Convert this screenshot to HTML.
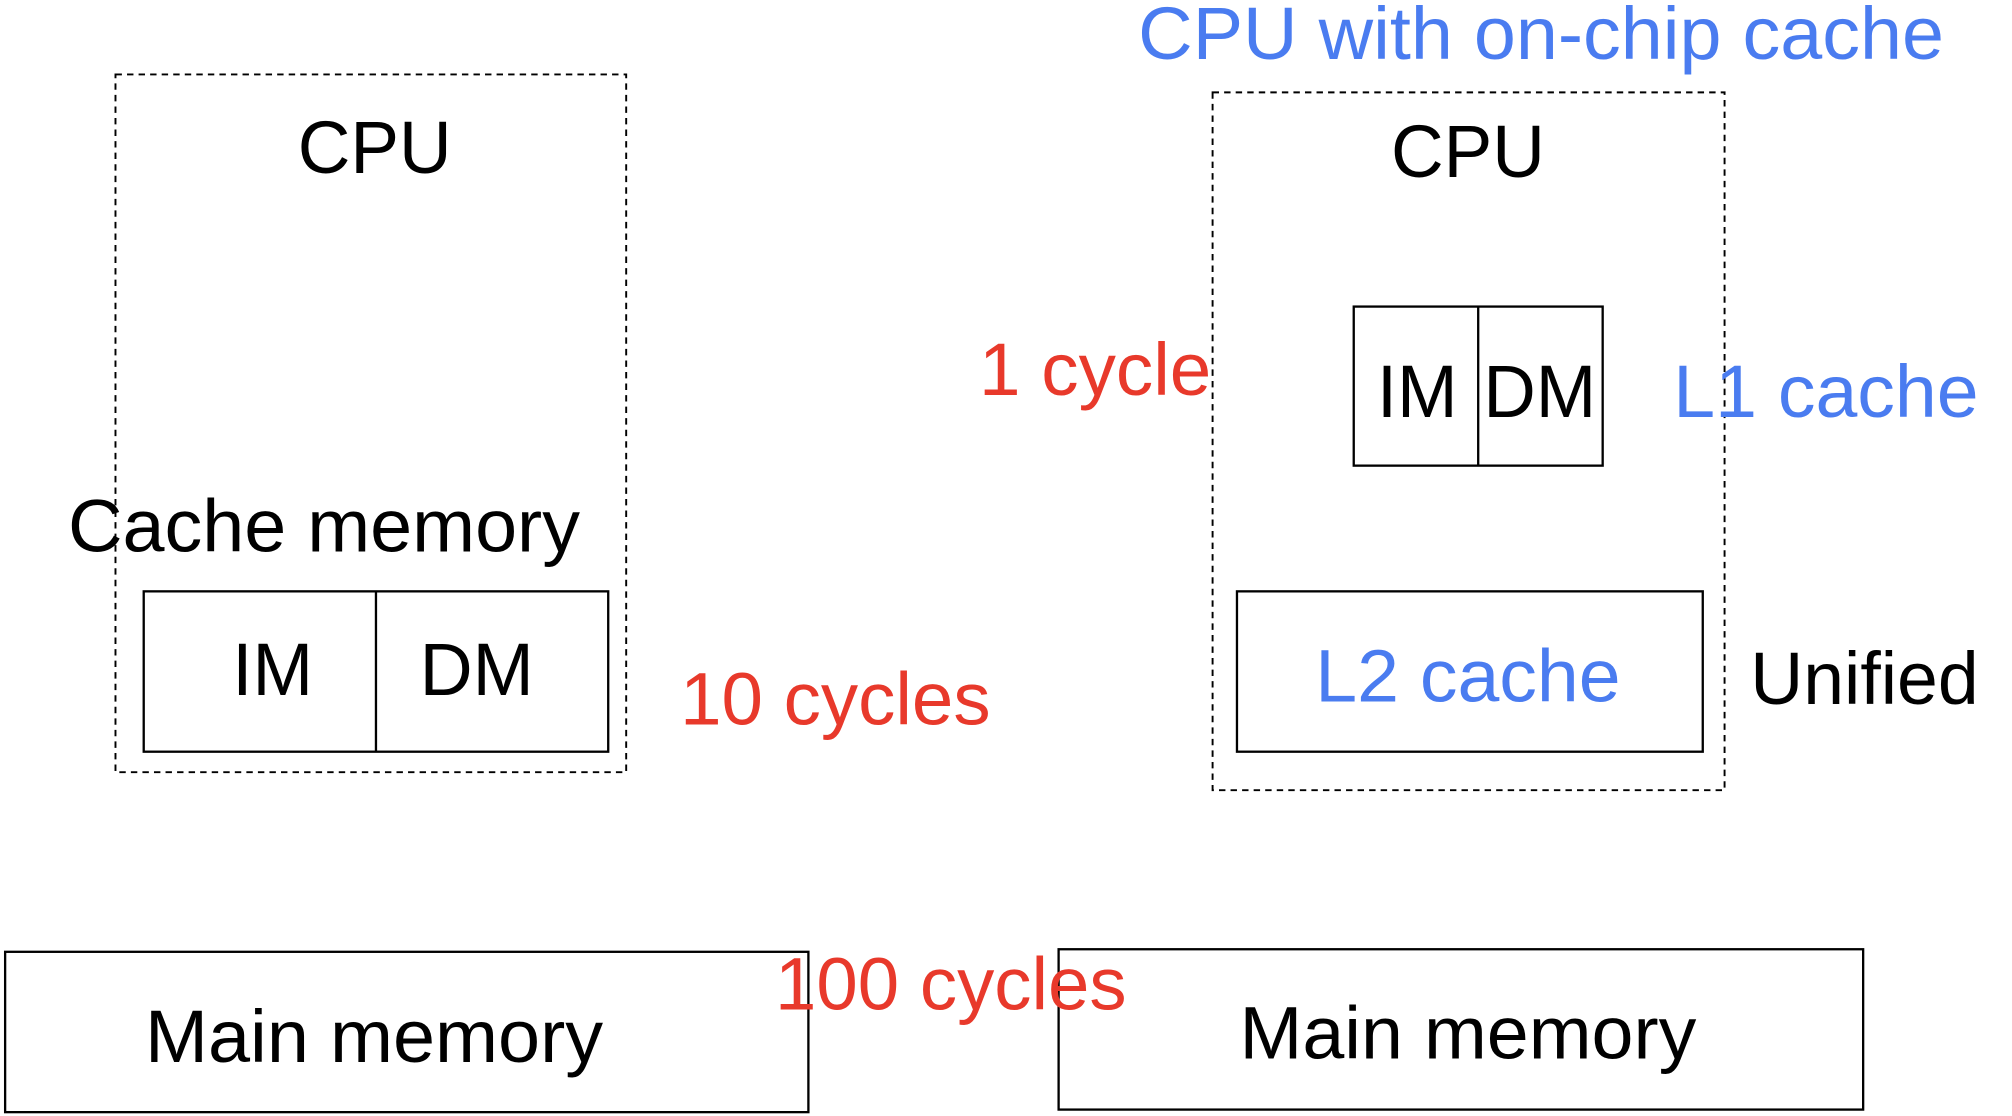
<!DOCTYPE html>
<html><head><meta charset="utf-8"><style>html,body{margin:0;padding:0;background:#fff}svg{display:block}</style></head>
<body>
<svg width="2012" height="1116" viewBox="0 0 1568 870" preserveAspectRatio="none" xmlns="http://www.w3.org/2000/svg" font-family="Liberation Sans, Arial, sans-serif" font-size="58">
<g fill="none" stroke="#000" stroke-width="1.5" stroke-dasharray="5,4">
<rect x="90" y="58" width="398" height="544"/>
<rect x="945" y="72" width="399" height="544"/>
</g>
<g fill="none" stroke="#000" stroke-width="1.8">
<rect x="112" y="461" width="362" height="125"/>
<line x1="293" y1="461" x2="293" y2="586"/>
<rect x="4" y="742" width="626" height="125"/>
<rect x="825" y="740" width="627" height="125"/>
<rect x="1055" y="239" width="194" height="124"/>
<line x1="1152" y1="239" x2="1152" y2="363"/>
<rect x="964" y="461" width="363" height="125"/>
</g>
<g fill="#000">
<text x="232" y="135" textLength="120" lengthAdjust="spacingAndGlyphs">CPU</text>
<text x="1084" y="138" textLength="120" lengthAdjust="spacingAndGlyphs">CPU</text>
<text x="53" y="430" textLength="399" lengthAdjust="spacingAndGlyphs">Cache memory</text>
<text x="181" y="542" textLength="63" lengthAdjust="spacingAndGlyphs">IM</text>
<text x="327" y="542" textLength="89" lengthAdjust="spacingAndGlyphs">DM</text>
<text x="113" y="828" textLength="357" lengthAdjust="spacingAndGlyphs">Main memory</text>
<text x="966" y="825" textLength="356" lengthAdjust="spacingAndGlyphs">Main memory</text>
<text x="1073" y="325" textLength="63" lengthAdjust="spacingAndGlyphs">IM</text>
<text x="1156" y="325" textLength="88" lengthAdjust="spacingAndGlyphs">DM</text>
<text x="1364" y="549" textLength="178" lengthAdjust="spacingAndGlyphs">Unified</text>
</g>
<g fill="#E8392B">
<text x="530" y="565" textLength="242" lengthAdjust="spacingAndGlyphs">10 cycles</text>
<text x="604" y="787" textLength="274" lengthAdjust="spacingAndGlyphs">100 cycles</text>
<text x="763" y="308" textLength="181" lengthAdjust="spacingAndGlyphs">1 cycle</text>
</g>
<g fill="#4A7CF0">
<text x="887" y="46" textLength="628" lengthAdjust="spacingAndGlyphs">CPU with on-chip cache</text>
<text x="1304" y="325" textLength="238" lengthAdjust="spacingAndGlyphs">L1 cache</text>
<text x="1025" y="547" textLength="238" lengthAdjust="spacingAndGlyphs">L2 cache</text>
</g>
</svg>
</body></html>
